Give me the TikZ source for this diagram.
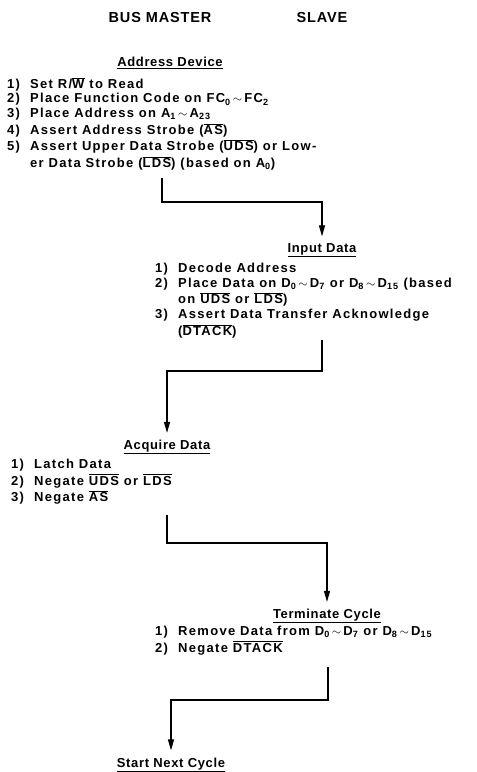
\documentclass[tikz,border=0pt]{standalone}
\usepackage{fontspec}
\setmainfont{Liberation Sans}[LetterSpace=10]
\newfontfamily\headfont{Liberation Sans}[LetterSpace=6]
\newfontfamily\stepfont{Liberation Sans}[LetterSpace=5]
\usetikzlibrary{arrows.meta, positioning, calc}

\newcommand{\ovl}[1]{$\overline{\mbox{#1}}$}
\newcommand{\itm}[1]{\strut\makebox[23pt][l]{#1)}}
\newcommand{\cont}{\strut\hspace*{23pt}}
\newcommand{\tld}{\,$\sim$\,}

\begin{document}
\begin{tikzpicture}[x=1pt, y=1pt,
  every node/.style={font=\fontsize{13}{14.8}\selectfont\bfseries, inner sep=0pt},
  colhead/.style={font=\fontsize{14.5}{15}\selectfont\headfont\bfseries},
  stephead/.style={anchor=base, font=\fontsize{13}{14.8}\selectfont\stepfont\bfseries},
  steplist/.style={align=left, anchor=north west},
  flow/.style={line width=1.2pt, -{Triangle[length=11pt,width=6pt]}}]
  \useasboundingbox (0,0) rectangle (477,-772);

  % column titles
  \node[colhead] (master) at (160,-18) {BUS MASTER};
  \node[colhead] (slave)  at (322,-18) {SLAVE};

  % Address Device (bus master)
  \node[stephead] (adhead) at (170,-66.5) {\underline{Address Device}};
  \node[steplist] (adlist) at (7,-77) {%
    \itm{1}Set R/\ovl{W} to Read\\
    \itm{2}Place Function Code on FC\textsubscript{0}\tld FC\textsubscript{2}\\
    \itm{3}Place Address on A\textsubscript{1}\tld A\textsubscript{23}\\
    \itm{4}Assert Address Strobe (\ovl{AS})\\
    \itm{5}Assert Upper Data Strobe (\ovl{UDS}) or Low-\\
    \cont er Data Strobe (\ovl{LDS}) (based on A\textsubscript{0})};
  \coordinate (adout) at (162,-178);

  % Input Data (slave)
  \node[stephead] (inhead) at (322,-252.5) {\underline{Input Data}};
  \node[steplist] (inlist) at (155,-262) {%
    \itm{1}Decode Address\\
    \itm{2}Place Data on D\textsubscript{0}\tld D\textsubscript{7} or D\textsubscript{8}\tld D\textsubscript{15} (based\\
    \cont on \ovl{UDS} or \ovl{LDS})\\
    \itm{3}Assert Data Transfer Acknowledge\\
    \cont (\ovl{DTACK})};
  \coordinate (inout) at (322,-340);

  % Acquire Data (bus master)
  \node[stephead] (aqhead) at (167,-449.5) {\underline{Acquire Data}};
  \node[steplist] (aqlist) at (11,-458) {%
    \itm{1}Latch Data\\
    \itm{2}Negate \ovl{UDS} or \ovl{LDS}\\
    \itm{3}Negate \ovl{AS}};
  \coordinate (aqout) at (167,-515);

  % Terminate Cycle (slave)
  \node[stephead] (tmhead) at (327,-618.5) {\underline{Terminate Cycle}};
  \node[steplist] (tmlist) at (155,-625) {%
    \itm{1}Remove Data from D\textsubscript{0}\tld D\textsubscript{7} or D\textsubscript{8}\tld D\textsubscript{15}\\
    \itm{2}Negate \ovl{DTACK}};
  \coordinate (tmout) at (328,-667);

  % Start Next Cycle
  \node[stephead] (nxhead) at (171,-767) {\underline{Start Next Cycle}};

  % hand-over arrows
  \draw[flow] (adout) -- ++(0,-24) -| ([yshift=7pt]inhead.north);
  \draw[flow] (inout) -- ++(0,-31) -| ([yshift=7pt]aqhead.north);
  \draw[flow] (aqout) -- ++(0,-28) -| ([yshift=7pt]tmhead.north);
  \draw[flow] (tmout) -- ++(0,-33) -| ([yshift=7pt]nxhead.north);
\end{tikzpicture}
\end{document}
